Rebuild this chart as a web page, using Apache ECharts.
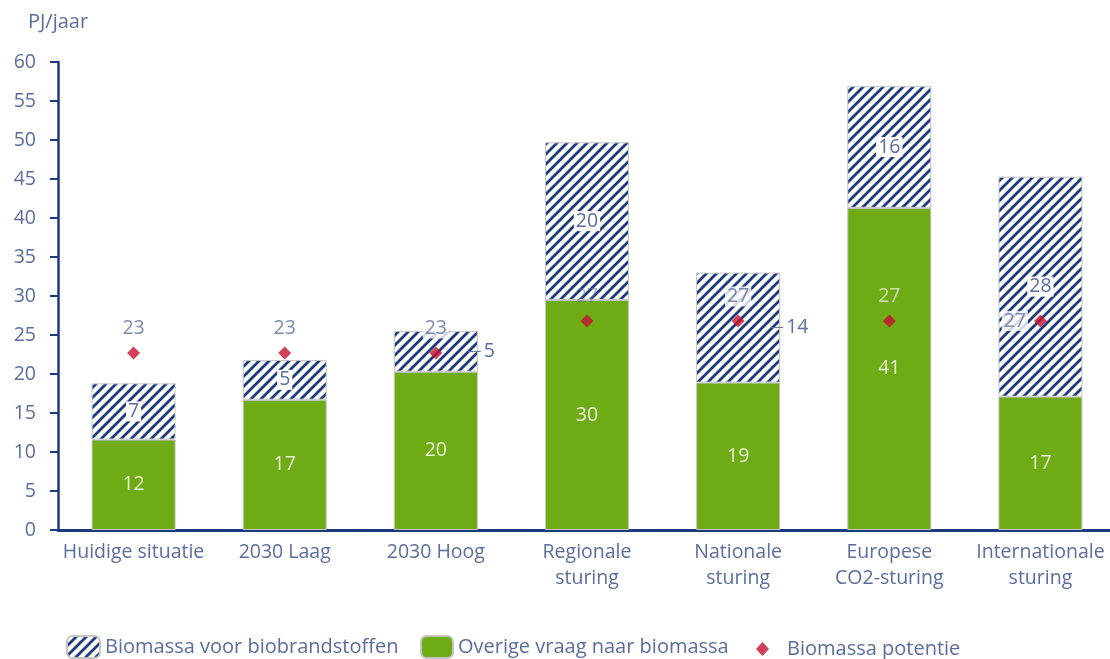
<!DOCTYPE html>
<html><head><meta charset="utf-8">
<script src="https://cdn.jsdelivr.net/npm/echarts@6/dist/echarts.min.js"></script>
<style>html,body{margin:0;padding:0;background:#fff}#c{width:1110px;height:659px}</style>
</head><body><div id="c"></div>
<script>
const categories = ['Huidige situatie','2030 Laag','2030 Hoog','Regionale\nsturing','Nationale\nsturing','Europese\nCO2-sturing','Internationale\nsturing'];
const overigeVraag = [11.6, 16.7, 20.3, 29.5, 18.9, 41.3, 17.1];
const biobrandstoffen = [7.2, 5.1, 5.2, 20.2, 14.1, 15.6, 28.2];
const potentie = [22.7, 22.7, 22.7, 26.8, 26.8, 26.8, 26.8];
const yTicks = {min: 0, max: 60, interval: 5};

// label placement (style, not data)
const hatchLabelPlace = ['inside','inside','right','inside','right','inside','inside'];
const potLabelPlace = ['top','top','top','faded','top','onGreen','left'];

const TXT = '#5b6d9c';
const NAVY = '#1d3a7c';
const GREEN = '#6fab15';
const RED = '#c4102e';
const LIGHT = '#e4eed2';
const FONT = '"Open Sans", "Noto Sans", sans-serif';
const FS = 19.5;

function hatch() {
  const s = 10, c = document.createElement('canvas');
  c.width = s; c.height = s;
  const g = c.getContext('2d');
  g.fillStyle = '#fff'; g.fillRect(0,0,s,s);
  g.strokeStyle = NAVY; g.lineWidth = 2.8;
  g.beginPath();
  g.moveTo(-s/2, s/2); g.lineTo(s/2, -s/2);
  g.moveTo(0, s); g.lineTo(s, 0);
  g.moveTo(s/2, s*1.5); g.lineTo(s*1.5, s/2);
  g.stroke();
  return c;
}
const pattern = {image: hatch(), repeat: 'repeat'};

const chart = echarts.init(document.getElementById('c'), null, {renderer: 'canvas'});

const hatchData = biobrandstoffen.map((v, i) => {
  const item = {value: v};
  if (hatchLabelPlace[i] === 'right') {
    item.label = {
      position: 'right', offset: [-15, 0], backgroundColor: 'transparent', padding: 0,
      formatter: p => '{l|}{v|' + Math.round(p.value) + '}'
    };
  }
  return item;
});

const potData = potentie.map((v, i) => {
  const item = {value: v};
  const pl = potLabelPlace[i];
  if (pl === 'faded') item.label = {backgroundColor: 'transparent', opacity: 0.5};
  else if (pl === 'left') item.label = {position: 'left', distance: 6};
  else if (pl === 'onGreen') item.label = {backgroundColor: 'transparent', color: LIGHT};
  return item;
});

const legendText = {color: TXT, fontSize: 20, fontFamily: FONT};

chart.setOption({
  animation: false,
  textStyle: {fontFamily: FONT},
  grid: {left: 58, width: 1058, top: 62, bottom: 129, containLabel: false, outerBoundsMode: 'none'},
  legend: [
    {data: [{name: 'Biomassa voor biobrandstoffen'}], left: 66, top: 635, itemWidth: 33, itemHeight: 22, itemGap: 8,
      textStyle: legendText, selectedMode: false, padding: 0},
    {data: [{name: 'Overige vraag naar biomassa'}], left: 420, top: 635, itemWidth: 32, itemHeight: 22,
      textStyle: legendText, selectedMode: false, padding: 0},
    {data: [{name: 'Biomassa potentie', icon: 'diamond'}], left: 756, top: 639, itemWidth: 13, itemHeight: 14,
      textStyle: Object.assign({}, legendText, {padding: [0, 0, 0, 13]}), selectedMode: false, padding: 0}
  ],
  xAxis: {
    type: 'category', data: categories,
    axisLine: {lineStyle: {color: NAVY, width: 3}},
    axisTick: {show: false},
    axisLabel: {color: TXT, fontSize: FS, lineHeight: 26, margin: 9, interval: 0, fontFamily: FONT}
  },
  yAxis: {
    type: 'value', min: yTicks.min, max: yTicks.max, interval: yTicks.interval,
    name: 'PJ/jaar', nameGap: 30, nameTextStyle: {color: TXT, fontSize: 20, align: 'center', fontFamily: FONT},
    axisLine: {show: true, lineStyle: {color: NAVY, width: 2.5}},
    axisTick: {show: true, length: 8, lineStyle: {color: NAVY, width: 2}},
    axisLabel: {color: TXT, fontSize: FS, margin: 22, fontFamily: FONT},
    splitLine: {show: false}
  },
  series: [
    {
      name: 'Overige vraag naar biomassa', type: 'bar', stack: 'a', barWidth: 84, z: 2,
      data: overigeVraag,
      itemStyle: {color: GREEN, borderColor: '#c4c4c4', borderWidth: 1},
      label: {show: true, position: 'inside', color: LIGHT, fontSize: FS, fontFamily: FONT,
        formatter: p => Math.round(p.value)}
    },
    {
      name: 'Biomassa voor biobrandstoffen', type: 'bar', stack: 'a', barWidth: 84, z: 2,
      data: hatchData,
      itemStyle: {color: pattern, borderColor: '#c4c4c4', borderWidth: 1},
      label: {show: true, position: 'inside', color: TXT, fontSize: FS, fontFamily: FONT,
        backgroundColor: '#fff', padding: [0, 2, 0, 2],
        formatter: p => Math.round(p.value),
        rich: {
          l: {width: 13, height: 1, backgroundColor: TXT},
          v: {color: TXT, fontSize: FS, fontFamily: FONT, padding: [0, 0, 0, 3]}
        }}
    },
    {
      name: 'Biomassa potentie', type: 'scatter', symbol: 'diamond', symbolSize: [13, 13], z: 5,
      data: potData,
      itemStyle: {color: RED},
      label: {show: true, position: 'top', distance: 8, color: TXT, fontSize: FS, fontFamily: FONT,
        backgroundColor: '#fff', padding: [0, 2, 0, 2],
        formatter: p => Math.round(p.value)}
    }
  ]
});
</script>
</body></html>
